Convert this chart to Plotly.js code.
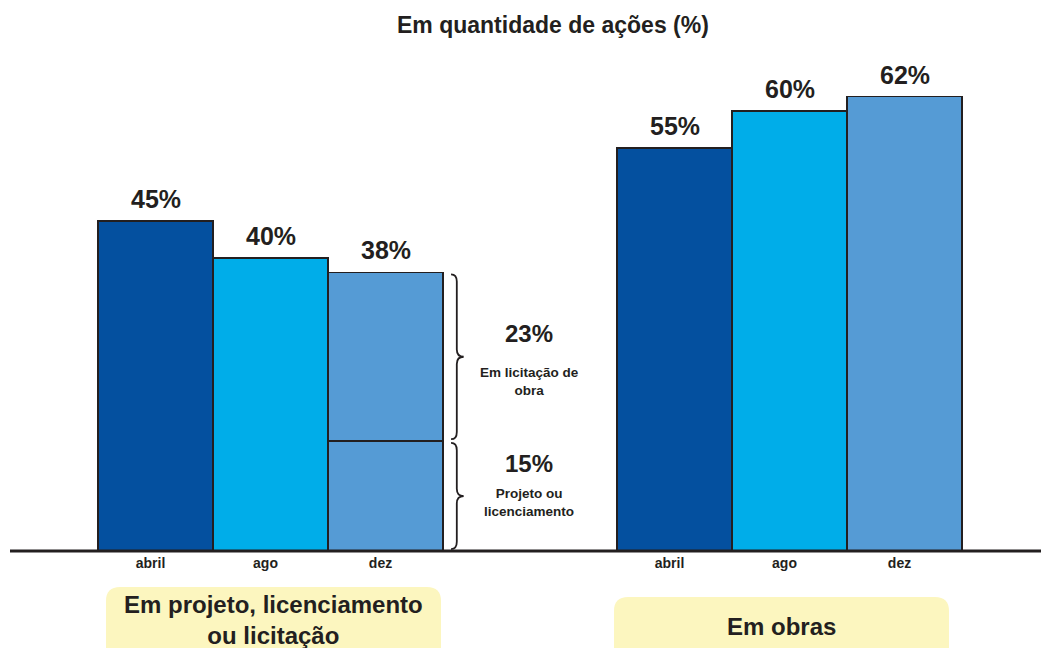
<!DOCTYPE html>
<html>
<head>
<meta charset="utf-8">
<script src="https://cdn.plot.ly/plotly-3.0.1.min.js"></script>
<style>
  html, body { margin: 0; padding: 0; background: #ffffff; }
  #chart { width: 1041px; height: 648px; }
</style>
</head>
<body>
<div id="chart"></div>
<script>
// ---------------- data ----------------
const chartTitle = "Em quantidade de ações (%)";
const groupNames = ["Em projeto, licenciamento<br>ou licitação", "Em obras"];
const months = ["abril", "ago", "dez"];
const abrilValues = [45, 55];
const agoValues = [40, 60];
const dezValues = [38, 62];
// breakdown of the "dez" bar of the first group (bottom to top)
const dezParts = [15, 23];
const dezPartLabels = ["Projeto ou<br>licenciamento", "Em licitação de<br>obra"];

// ---------------- layout helpers ----------------
const W = 1041, H = 648, BASE = 551;      // baseline pixel
const PX_PER_UNIT = 115, PX_PER_PCT = 7.33;
const X0 = -0.5 - 98 / PX_PER_UNIT;        // data x at pixel 0
const groupStart = [0, 519 / PX_PER_UNIT]; // x of first bar of each group
const X = px => X0 + px / PX_PER_UNIT;
const Y = py => (BASE - py) / PX_PER_PCT;
const PX = px => px / W;
const PY = py => (BASE - py) / BASE;

const colors = { abril: "#04509f", ago: "#00ade9", dez: "#559bd5" };
const ink = "#231f20";
const FONT = "Liberation Sans, Arial, sans-serif";
const outline = { color: ink, width: 1.5 };

const xAbril = groupStart.map(g => g + 0);
const xAgo = groupStart.map(g => g + 1);
const xDez = groupStart.map(g => g + 2);

const traces = [
  { type: "bar", x: xAbril, y: abrilValues, width: 1, marker: { color: colors.abril, line: outline }, hoverinfo: "skip" },
  { type: "bar", x: xAgo, y: agoValues, width: 1, marker: { color: colors.ago, line: outline }, hoverinfo: "skip" },
  // first group dez, split into its parts
  { type: "bar", x: [xDez[0]], y: [dezParts[0]], width: 1, marker: { color: colors.dez, line: outline }, hoverinfo: "skip" },
  { type: "bar", x: [xDez[0]], y: [dezParts[1]], width: 1, marker: { color: colors.dez, line: outline }, hoverinfo: "skip" },
  // second group dez
  { type: "bar", x: [xDez[1]], y: [dezValues[1]], width: 1, marker: { color: colors.dez, line: outline }, hoverinfo: "skip" }
];

const annotations = [];
// value labels above bars
[[xAbril, abrilValues], [xAgo, agoValues], [xDez, dezValues]].forEach(([xs, vs]) => {
  xs.forEach((x, i) => annotations.push({
    x: x, y: vs[i], xref: "x", yref: "y", xanchor: "center", yanchor: "bottom", yshift: 6,
    text: "<b>" + vs[i] + "%</b>", showarrow: false,
    font: { family: FONT, size: 25, color: ink }
  }));
});

// breakdown labels on the right of the split bar
const braceX = xDez[0] + 0.5;
const pctLabelPx = [463, 333];   // pixel centre of the % label of each part
const subLabelPx = [484, 363];   // pixel top of the sub-label of each part
let acc = 0;
const shapes = [];
dezParts.forEach((v, i) => {
  const lo = acc, hi = acc + v; acc = hi;
  const mid = (lo + hi) / 2;
  annotations.push({
    x: braceX + 0.75, y: Y(pctLabelPx[i]), xref: "x", yref: "y", xanchor: "center", yanchor: "middle",
    text: "<b>" + v + "%</b>", showarrow: false,
    font: { family: FONT, size: 24, color: ink }
  });
  annotations.push({
    x: braceX + 0.75, y: Y(subLabelPx[i]), xref: "x", yref: "y", xanchor: "center", yanchor: "top",
    text: "<b>" + dezPartLabels[i] + "</b>", showarrow: false,
    font: { family: FONT, size: 13.5, color: ink }
  });
  // curly brace
  const xa = braceX + 0.07, xm = braceX + 0.12, xt = braceX + 0.18;
  const t = hi - 0.25, b = lo + 0.25, r = 1.0;
  const path = `M ${xa},${t} Q ${xm},${t} ${xm},${t - r} L ${xm},${mid + r} Q ${xm},${mid} ${xt},${mid} ` +
               `Q ${xm},${mid} ${xm},${mid - r} L ${xm},${b + r} Q ${xm},${b} ${xa},${b}`;
  shapes.push({ type: "path", xref: "x", yref: "y", path: path, line: { color: ink, width: 1.8 } });
});

// baseline
shapes.push({ type: "line", xref: "paper", yref: "paper", x0: PX(10), x1: 1, y0: 0, y1: 0, line: { color: ink, width: 3 } });

// group boxes
const boxes = [[106, 441, 587], [614, 949, 597]];
const boxTextPx = [620, 626];
const rr = 14;
boxes.forEach(([l, r, t], i) => {
  const b = 660;
  const path = `M ${PX(l)},${PY(b)} L ${PX(l)},${PY(t + rr)} Q ${PX(l)},${PY(t)} ${PX(l + rr)},${PY(t)} ` +
               `L ${PX(r - rr)},${PY(t)} Q ${PX(r)},${PY(t)} ${PX(r)},${PY(t + rr)} L ${PX(r)},${PY(b)} Z`;
  shapes.push({ type: "path", xref: "paper", yref: "paper", path: path, fillcolor: "#fcf6bf", line: { width: 0 }, layer: "below" });
  annotations.push({
    x: PX((l + r) / 2), y: PY(boxTextPx[i]), xref: "paper", yref: "paper", xanchor: "center", yanchor: "middle",
    text: "<b>" + groupNames[i] + "</b>", showarrow: false,
    font: { family: FONT, size: 24, color: ink }
  });
});

// title
annotations.push({
  x: PX(553), y: PY(25), xref: "paper", yref: "paper", xanchor: "center", yanchor: "middle",
  text: "<b>" + chartTitle + "</b>", showarrow: false,
  font: { family: FONT, size: 23, color: ink }
});

const tickvals = [...xAbril, ...xAgo, ...xDez];
const ticktext = [months[0], months[0], months[1], months[1], months[2], months[2]];

const layout = {
  width: W, height: H,
  margin: { l: 0, r: 0, t: 0, b: H - BASE },
  paper_bgcolor: "#ffffff", plot_bgcolor: "#ffffff",
  barmode: "stack", bargap: 0,
  showlegend: false,
  xaxis: {
    range: [X0, X(W)], showgrid: false, zeroline: false, showline: false,
    tickvals: tickvals, ticktext: ticktext, ticks: "", ticklabelstandoff: 2, ticklabelshift: -5,
    tickfont: { family: FONT, size: 14, color: ink, weight: "bold" },
    fixedrange: true
  },
  yaxis: {
    range: [0, BASE / PX_PER_PCT], visible: false, fixedrange: true
  },
  shapes: shapes,
  annotations: annotations
};

Plotly.newPlot("chart", traces, layout, { displayModeBar: false, staticPlot: true });
</script>
</body>
</html>
